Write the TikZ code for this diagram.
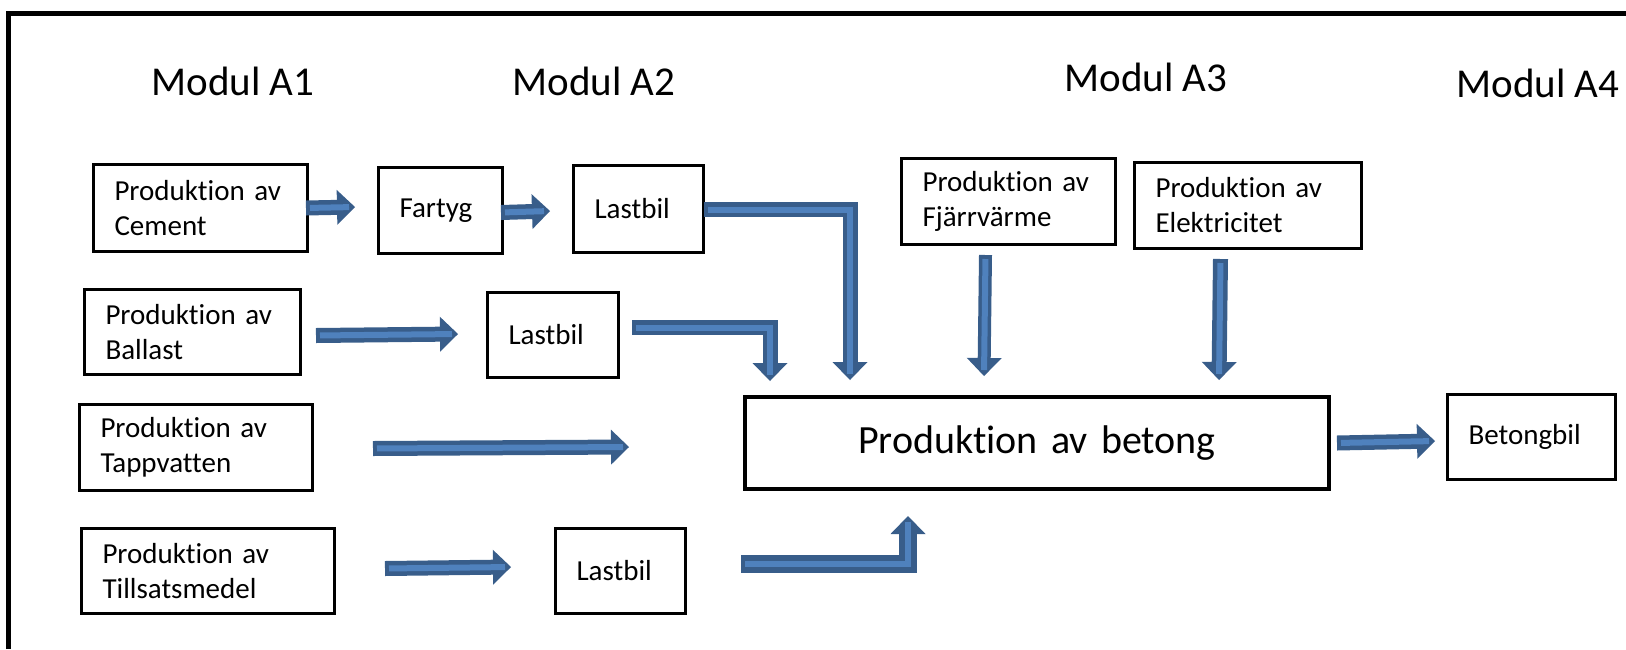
\documentclass[tikz,border=0pt]{standalone}
\usepackage{fontspec}
\setmainfont{Carlito}[Ligatures=NoCommon]
\usetikzlibrary{arrows.meta}
\usetikzlibrary{calc}

\definecolor{pilkant}{HTML}{385D8A}
\definecolor{pilfyll}{HTML}{4F81BD}

% block arrow: dark shaft with tip, light core on top
\newcommand{\blockpil}[2][15pt]{%
  \draw[pil, line width=#1] #2;
  \draw[pilinre] #2;}

\begin{document}
\begin{tikzpicture}[
            x=1pt, y=-1pt,
            ruta/.style={draw, line width=3pt, anchor=north west, align=left,
                inner xsep=21pt, inner ysep=0pt, font=\fontsize{29}{35}\selectfont},
            rubrik/.style={anchor=base, font=\fontsize{41}{49}\selectfont},
            pil/.style={draw=pilkant, line join=miter,
                -{Triangle[length=18pt,width=35pt,line width=0pt]}},
            pilinre/.style={draw=pilfyll, line width=6pt, line join=miter,
                shorten >=6pt, shorten <=4pt}
            ]
            \useasboundingbox (0,0) rectangle (1626,649);
            \draw[line width=5pt] (8,649) -- (8,13) -- (1626,13);

            \node[rubrik] (a1) at (233,95) {Modul A1};
            \node[rubrik] (a2) at (594,95) {Modul A2};
            \node[rubrik] (a3) at (1146,91) {Modul A3};
            \node[rubrik] (a4) at (1538,97) {Modul A4};

            \node[ruta, text width=172pt, minimum height=87pt] (cement) at (92,163) {Produktion av\\Cement};
            \node[ruta, text width=82pt, minimum height=86pt] (fartyg) at (377,166) {Fartyg};
            \node[ruta, text width=88pt, minimum height=87pt] (lastbil1) at (572,164) {Lastbil};
            \node[ruta, text width=174pt, minimum height=85pt] (ballast) at (83,288) {Produktion av\\Ballast};
            \node[ruta, text width=89pt, minimum height=85pt] (lastbil2) at (486,291) {Lastbil};
            \node[ruta, text width=191pt, minimum height=86pt] (tappvatten) at (78,403) {Produktion av\\Tappvatten};
            \node[ruta, text width=211pt, minimum height=85pt] (tillsats) at (80,527) {Produktion av\\Tillsatsmedel};
            \node[ruta, text width=88pt, minimum height=85pt] (lastbil3) at (554,527) {Lastbil};
            \node[ruta, text width=172pt, minimum height=86pt] (fjarr) at (900,157) {Produktion av\\Fjärrvärme};
            \node[ruta, text width=185pt, minimum height=86pt] (el) at (1133,161) {Produktion av\\Elektricitet};
            \node[ruta, line width=4pt, align=center, text width=542pt, minimum height=92pt,
                font=\fontsize{40}{48}\selectfont] (betong) at (743,395) {Produktion av betong};
            \node[ruta, text width=126pt, minimum height=85pt] (betongbil) at (1446,393) {Betongbil};

            \coordinate (t1) at (355,207);
            \coordinate (t2) at (550,211);
            \coordinate (t3) at (850,380);
            \coordinate (t4) at (458,334);
            \coordinate (t5) at (770,381);
            \coordinate (t6) at (629,447);
            \coordinate (t7) at (511,567);
            \coordinate (t8) at (908,516);
            \coordinate (t9) at (984,376);
            \coordinate (t10) at (1219,380);
            \coordinate (t11) at (1435,441);

            \blockpil{($(cement.east)+(-3,0)$) -- (t1)}
            \blockpil{($(fartyg.east)+(-3,2)$) -- (t2)}
            \blockpil{($(lastbil1.east)+(-1,0.5)$) -| (t3)}
            \blockpil{($(ballast.east)+(14,3.5)$) -- (t4)}
            \blockpil{($(lastbil2.east)+(12,-7.5)$) -| (t5)}
            \blockpil{($(tappvatten.east)+(59,1)$) -- (t6)}
            \blockpil{($(tillsats.east)+(49,-2.5)$) -- (t7)}
            \blockpil[18pt]{($(lastbil3.east)+(54,-7.5)$) -| (t8)}
            \blockpil[13pt]{($(fjarr.south)+(-23,9)$) -- (t9)}
            \blockpil{($(el.south)+(-27.5,9)$) -- (t10)}
            \blockpil{($(betong.east)+(6,0)$) -- (t11)}
        \end{tikzpicture}
\end{document}
